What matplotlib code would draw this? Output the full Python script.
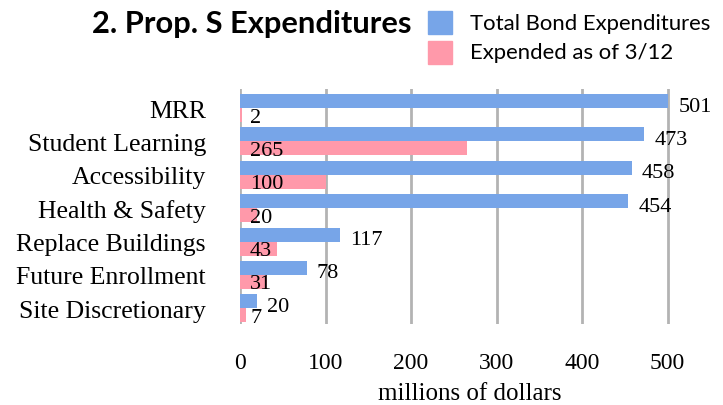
import matplotlib
matplotlib.use("Agg")
import matplotlib.pyplot as plt
from matplotlib.patches import Rectangle

categories = ["MRR", "Student Learning", "Accessibility", "Health & Safety",
              "Replace Buildings", "Future Enrollment", "Site Discretionary"]
total_bond = [501, 473, 458, 454, 117, 78, 20]
expended = [2, 265, 100, 20, 43, 31, 7]
xticks = [0, 100, 200, 300, 400, 500]

BLUE = "#77A5E8"
PINK = "#FF99AA"
SERIF = ["Liberation Serif", "DejaVu Serif"]
SANS = ["Lato", "DejaVu Sans"]

W, H = 723, 406
fig = plt.figure(figsize=(W / 100, H / 100), dpi=100)
ax = fig.add_axes([240 / W, 1 - 325 / H, (700 - 240) / W, (325 - 90) / H])

y = list(range(len(categories)))
bh = 0.42
yb = [v - bh / 2 for v in y]
yp = [v + bh / 2 for v in y]
ax.barh(yb, total_bond, height=bh, color=BLUE, zorder=3)
ax.barh(yp, expended, height=bh, color=PINK, zorder=3)

ax.set_xlim(0, 538)
ax.set_ylim(6.47, -0.57)
ax.set_xticks(xticks)
ax.set_xticklabels([str(t) for t in xticks], family=SERIF, fontsize=17)
ax.set_yticks(y)
ax.set_yticklabels(categories, family=SERIF, fontsize=18.5)
ax.tick_params(length=0)
ax.tick_params(axis="y", pad=24.5)
ax.tick_params(axis="x", pad=20)
for s in ax.spines.values():
    s.set_visible(False)
ax.grid(axis="x", color="#b3b3b3", linewidth=2, zorder=0)
ax.set_axisbelow(True)
ax.set_xlabel("millions of dollars", family=SERIF, fontsize=18, labelpad=6.5)

for yi, v in zip(yb, total_bond):
    ax.annotate(str(v), (v, yi), xytext=(10, -5), textcoords="offset pixels",
                ha="left", va="center", family=SERIF, fontsize=16, zorder=4)
for yi, v in zip(yp, expended):
    ax.annotate(str(v), (0, yi), xytext=(10, -2), textcoords="offset pixels",
                ha="left", va="center", family=SERIF, fontsize=16, zorder=4)

# title and legend
fig.text(412 / W, 1 - 24 / H, "2. Prop. S Expenditures", ha="right", va="center",
         family=SANS, fontweight="bold", fontsize=22.2)
fig.patches.append(Rectangle((428 / W, 1 - 35 / H), 24 / W, 23 / H,
                             transform=fig.transFigure, color=BLUE))
fig.patches.append(Rectangle((428 / W, 1 - 65 / H), 24 / W, 23 / H,
                             transform=fig.transFigure, color=PINK))
fig.text(470 / W, 1 - 24 / H, "Total Bond Expenditures", ha="left", va="center",
         family=SANS, fontsize=15.9)
fig.text(470 / W, 1 - 53 / H, "Expended as of 3/12", ha="left", va="center",
         family=SANS, fontsize=15.9)

fig.savefig("out.png", dpi=100)
